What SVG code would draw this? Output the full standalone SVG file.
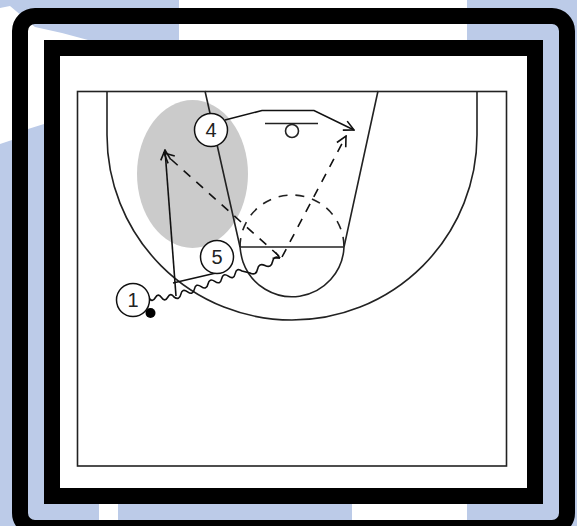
<svg xmlns="http://www.w3.org/2000/svg" width="577" height="526" viewBox="0 0 577 526">
<style>
.ln{fill:none;stroke:#222;stroke-width:1.6}
.cn{fill:none;stroke:#111;stroke-width:1.6}
.ds{stroke-dasharray:9 8}
.pl{fill:#fff;stroke:#111;stroke-width:1.5}
.tx{font-family:"Liberation Sans",Arial,sans-serif;font-size:20px;fill:#222;text-anchor:middle}
.w{fill:#fff}
</style>
<defs>
<marker id="a" viewBox="0 0 12 12" refX="11" refY="6" markerWidth="12" markerHeight="12" markerUnits="userSpaceOnUse" orient="auto">
<path d="M1 1L11 6L1 11" fill="none" stroke="#111" stroke-width="1.6"/>
</marker>
<marker id="b" viewBox="0 0 12 12" refX="11" refY="6" markerWidth="8" markerHeight="8" markerUnits="userSpaceOnUse" orient="auto">
<path d="M1 1L11 6L1 11" fill="none" stroke="#111" stroke-width="2"/>
</marker>
</defs>
<rect width="577" height="526" fill="#bccbe8"/>
<path class="w" d="M0 8L10 6L35 27L62 33L88 40L88 122L44 124L28 129L12 140L0 144Z"/>
<rect class="w" x="179" y="0" width="288" height="60"/>
<rect class="w" x="99" y="500" width="19" height="26"/>
<rect class="w" x="352" y="500" width="115" height="26"/>
<rect x="20" y="16" width="547" height="512" rx="15" fill="none" stroke="#000" stroke-width="16"/>
<rect x="52" y="48" width="483" height="448" fill="#fff" stroke="#000" stroke-width="16"/>
<g id="court">
<ellipse cx="192.5" cy="174" rx="55.5" ry="74" fill="#cbcbcb"/>
<rect class="ln" x="77.500" y="91.500" width="429" height="374.500"/>
<path class="ln" d="M107 91V135A185 185 0 0 0 477 135V91"/>
<path class="ln" d="M205 91L240 247Q241 256 243 262A52 52 0 0 0 344 247L378 91"/>
<path class="ln" d="M240 247H344"/>
<path class="ln" d="M240 247A52 52 0 0 1 344 247" stroke-dasharray="9 8"/>
<path class="ln" d="M265 123.500H318"/>
<circle class="ln" cx="292" cy="131" r="6.500"/>
</g>
<g id="connectors">
<path class="cn" d="M225 120L262 110.500H314L354 130" marker-end="url(#a)"/>
<path class="cn" d="M216 273L173 283"/>
<path class="cn" d="M176 296L165 150" marker-end="url(#a)"/>
<path class="cn ds" d="M279 256L164 153" marker-end="url(#a)"/>
<path class="cn ds" d="M282 257L346 136" marker-end="url(#a)"/>
<path class="cn" d="M149 298q3.300 4.900 6.250 -.25t6.250 -.25t6.250 -.25t6.250 -.25q5.400 3.800 6.800 -2.600t6.800 -2.600t6.800 -2.600t6.800 -2.600t6.800 -2.600t6.800 -2.600t6.800 -2.600t6.800 -2.600t6.800 -2.600t6.800 -2.600L250 273q6.200 3 7.500 -3.750t7.500 -3.750t7.500 -3.750t7.500 -3.750" marker-end="url(#b)"/>
</g>
<g id="node-4"><circle class="pl" cx="211" cy="130" r="16.500"/><text class="tx" x="211" y="137">4</text></g>
<g id="node-5"><circle class="pl" cx="217" cy="257" r="16.500"/><text class="tx" x="217" y="264">5</text></g>
<g id="node-1"><circle class="pl" cx="133" cy="300" r="16.500"/><text class="tx" x="133" y="307">1</text></g>
<g id="ball"><circle cx="150.500" cy="313" r="5" fill="#000"/></g>
</svg>
